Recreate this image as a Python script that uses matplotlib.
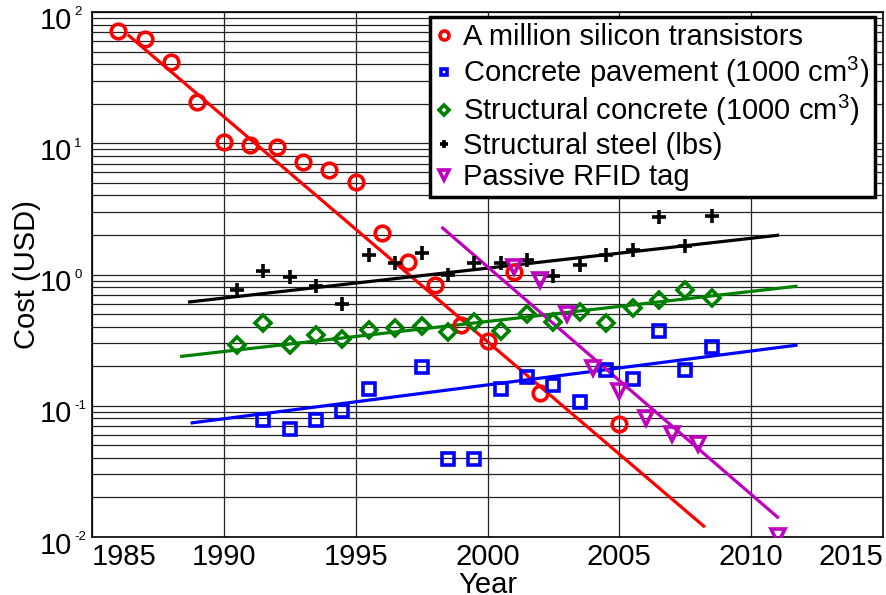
import numpy as np
import matplotlib
matplotlib.use("Agg")
import matplotlib.pyplot as plt
from matplotlib.transforms import ScaledTranslation

plt.rcParams['font.family'] = ['Liberation Sans', 'DejaVu Sans']
plt.rcParams['font.size'] = 21
plt.rcParams['mathtext.fontset'] = 'custom'
plt.rcParams['mathtext.rm'] = 'Liberation Sans'
plt.rcParams['mathtext.it'] = 'Liberation Sans:italic'
plt.rcParams['mathtext.bf'] = 'Liberation Sans:bold'
plt.rcParams['mathtext.default'] = 'regular'

# cost of a million transistors
chip_years = [1986, 1987, 1988, 1989, 1990, 1991, 1992, 1993, 1994, 1995,
              1996, 1997, 1998, 1999, 2000, 2001, 2002, 2005]
chip_cost = [72, 62, 41.3, 20.5, 10.3, 9.75, 9.3, 7.2, 6.2, 5.1,
             2.07, 1.25, 0.83, 0.41, 0.314, 1.05, 0.124, 0.072]

# concrete pavement, 1000 cm^3
pave_years = [1991.5, 1992.5, 1993.5, 1994.5, 1995.5, 1997.5, 1998.5, 1999.5,
              2000.5, 2001.5, 2002.5, 2003.5, 2004.5, 2005.5, 2006.5, 2007.5, 2008.5]
pave_cost = [0.0785, 0.066, 0.0785, 0.0908, 0.133, 0.198, 0.0396, 0.0396,
             0.133, 0.166, 0.145, 0.106, 0.186, 0.160, 0.369, 0.186, 0.279]

# structural concrete, 1000 cm^3
conc_years = [1990.5, 1991.5, 1992.5, 1993.5, 1994.5, 1995.5, 1996.5, 1997.5, 1998.5,
              1999.5, 2000.5, 2001.5, 2002.5, 2003.5, 2004.5, 2005.5, 2006.5, 2007.5, 2008.5]
conc_cost = [0.292, 0.427, 0.292, 0.348, 0.323, 0.38, 0.392, 0.408, 0.366,
             0.433, 0.369, 0.496, 0.433, 0.519, 0.427, 0.557, 0.637, 0.767, 0.664]

# structural steel, per lb
steel_years = [1990.5, 1991.5, 1992.5, 1993.5, 1994.5, 1995.5, 1996.5, 1997.5, 1998.5,
               1999.5, 2000.5, 2001.5, 2002.5, 2003.5, 2004.5, 2005.5, 2006.5, 2007.5, 2008.5]
steel_cost = [0.767, 1.07, 0.96, 0.813, 0.60, 1.40, 1.22, 1.46, 1.0,
              1.22, 1.22, 1.28, 0.97, 1.19, 1.42, 1.53, 2.73, 1.66, 2.77]

# passive RFID tag
rfid_years = [2001, 2002, 2003, 2004, 2005, 2006, 2007, 2008, 2011]
rfid_cost = [1.15, 0.914, 0.496, 0.195, 0.129, 0.081, 0.0614, 0.0515, 0.0101]

# trend lines: (start year, end year), (start cost, end cost)
chip_fit = ([1986.4, 2008.2], [66.0, 0.0121])
pave_fit = ([1988.8, 2011.7], [0.0741, 0.289])
conc_fit = ([1988.4, 2011.7], [0.238, 0.813])
steel_fit = ([1988.7, 2011.0], [0.618, 1.99])
rfid_fit = ([1998.3, 2011.0], [2.26, 0.01416])

labels = ['A million silicon transistors',
          'Concrete pavement (1000 cm$^3$)',
          'Structural concrete (1000 cm$^3$)',
          'Structural steel (lbs)',
          'Passive RFID tag']

x_ticks = [1985, 1990, 1995, 2000, 2005, 2010, 2015]
y_ticks = [1e-2, 1e-1, 1e0, 1e1, 1e2]
y_exponents = ['-2', '-1', '0', '1', '2']

magenta = (0.75, 0, 0.75)
green = (0, 0.5, 0)

fig = plt.figure(figsize=(8.86, 5.95), dpi=100)
ax = fig.add_axes([92 / 886, 1 - 537 / 595, (883 - 92) / 886, (537 - 12) / 595])
ax.set_yscale('log')

series = [
    (chip_years, chip_cost, chip_fit, 'red', 'o', 10.5, labels[0]),
    (pave_years, pave_cost, pave_fit, 'blue', 's', 8, labels[1]),
    (conc_years, conc_cost, conc_fit, green, 'D', 8, labels[2]),
    (steel_years, steel_cost, steel_fit, 'black', '+', 10, labels[3]),
    (rfid_years, rfid_cost, rfid_fit, magenta, 'v', 10.5, labels[4]),
]

for yrs, cost, fit, col, mk, ms, lab in series:
    ax.plot(fit[0], fit[1], color=col, lw=2.3, zorder=3)
    ax.plot(yrs, cost, linestyle='none', marker=mk, ms=ms, mfc='none',
            mec=col, mew=2.6, label=lab, zorder=4)

ax.set_xlim(1985, 2015)
ax.set_ylim(1e-2, 1e2)
ax.set_xticks(x_ticks)
ax.set_xticklabels([str(x) for x in x_ticks])
tl = ax.get_xticklabels()
tl[0].set_horizontalalignment('left')
tl[-1].set_horizontalalignment('right')

# y tick labels: "10" as the tick label, small exponent drawn beside it
ax.set_yticks(y_ticks)
ax.set_yticklabels(['10'] * len(y_ticks))
ax.minorticks_on()
ax.tick_params(axis='both', which='both', direction='in', length=0)
ax.tick_params(axis='y', pad=14.5)
ax.tick_params(axis='x', pad=4)
ax.xaxis.set_minor_locator(matplotlib.ticker.NullLocator())
ax.yaxis.set_minor_formatter(matplotlib.ticker.NullFormatter())
shift = ScaledTranslation(0, -4 / 72, fig.dpi_scale_trans)
for lab in ax.get_yticklabels():
    lab.set_transform(lab.get_transform() + shift)
for t, e in zip(y_ticks, y_exponents):
    ax.annotate(e, xy=(0, t), xycoords=('axes fraction', 'data'),
                xytext=(-12.8, -2.5), textcoords='offset points',
                ha='left', va='baseline', fontsize=9.5, annotation_clip=False)

ax.grid(True, which='major', axis='x', color='#222222', lw=0.9)
ax.grid(True, which='both', axis='y', color='#222222', lw=0.9)
ax.set_axisbelow(True)
for s in ax.spines.values():
    s.set_linewidth(1.2)

ax.set_xlabel('Year', labelpad=0)
ax.set_ylabel('Cost (USD)', labelpad=-1)

leg = ax.legend(loc='upper right', bbox_to_anchor=(0.99, 0.99), markerscale=0.62,
                handlelength=0.6, handletextpad=0.35, labelspacing=0.12,
                borderpad=0.2, borderaxespad=0.0, fancybox=False, framealpha=1)
leg.get_frame().set_edgecolor('black')
leg.get_frame().set_linewidth(2.5)

fig.savefig('out.png', dpi=100)
